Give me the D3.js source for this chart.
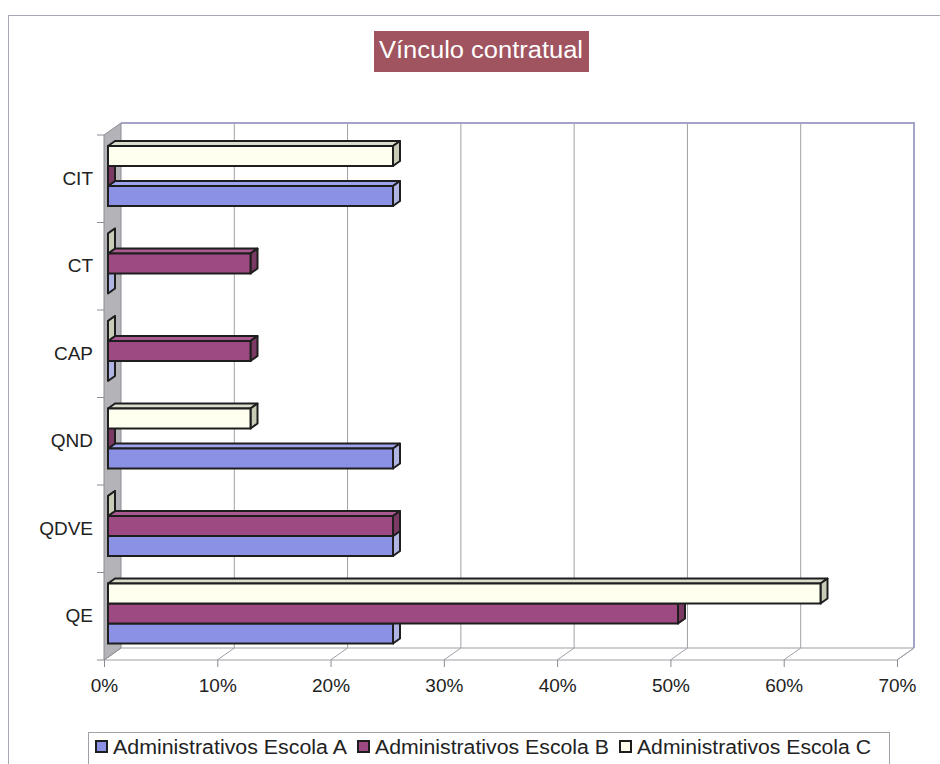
<!DOCTYPE html>
<html>
<head>
<meta charset="utf-8">
<script src="https://cdn.jsdelivr.net/npm/d3@7"></script>
<style>
  body { margin: 0; background: #fff; }
  text { font-family: 'Liberation Sans', Arial, sans-serif; fill: #222; }
</style>
</head>
<body>
<div id="chart"></div>
<script>
// chart data (percent)
const categories = ['CIT', 'CT', 'CAP', 'QND', 'QDVE', 'QE']
const seriesNames = ['Administrativos Escola A', 'Administrativos Escola B', 'Administrativos Escola C']
const escolaA = [25, 0, 0, 25, 25, 25]
const escolaB = [0, 12.5, 12.5, 0, 25, 50]
const escolaC = [25, 0, 0, 12.5, 0, 62.5]
const xTicks = [0, 10, 20, 30, 40, 50, 60, 70]
const titleText = 'Vínculo contratual'

const width = 940,
  height = 764

// colours per series: front, top, side
const palette = [
  { front: '#8b92e6', top: '#9ea4ee', side: '#b0b4e2' },
  { front: '#9d4a82', top: '#aa5a90', side: '#7b3a64' },
  { front: '#fffff0', top: '#d9ddcc', side: '#c8ccb6' },
]

const svg = d3
  .select('#chart')
  .append('svg')
  .attr('width', width)
  .attr('height', height)

// outer frame
svg
  .append('rect')
  .attr('x', 8.5)
  .attr('y', 15.5)
  .attr('width', 960)
  .attr('height', 780)
  .attr('fill', '#fff')
  .attr('stroke', '#a8a8b4')

// scales (front plane of the 3d box)
const x = d3.scaleLinear().domain([0, 70]).range([104, 897])
const xBar = d3.scaleLinear().domain([0, 70]).range([108, 906])
const y = d3.scaleBand().domain(categories).range([135, 660])
const ySeries = d3.scaleBand().domain(['C', 'B', 'A']).range([11, 71])

const depth = { dx: 17, dy: -12 }
const barDepth = { dx: 7, dy: -5 }
const plotTop = 135,
  plotBottom = 660

// back wall
const g = svg.append('g')
g.append('rect')
  .attr('x', x(0) + depth.dx)
  .attr('y', plotTop + depth.dy)
  .attr('width', x(70) - x(0))
  .attr('height', plotBottom - plotTop)
  .attr('fill', '#fff')

// back wall gridlines
g.selectAll('.grid')
  .data(xTicks.slice(1, -1))
  .join('line')
  .attr('class', 'grid')
  .attr('x1', (d) => x(d) + depth.dx)
  .attr('x2', (d) => x(d) + depth.dx)
  .attr('y1', plotTop + depth.dy)
  .attr('y2', plotBottom + depth.dy)
  .attr('stroke', '#a0a0a8')
  .attr('stroke-width', 1)

// wall outline top + right
g.append('path')
  .attr(
    'd',
    `M${x(0) + depth.dx},${plotTop + depth.dy}H${x(70) + depth.dx}V${plotBottom + depth.dy}`
  )
  .attr('fill', 'none')
  .attr('stroke', '#a4a4c8')
  .attr('stroke-width', 2)

// floor
g.append('path')
  .attr(
    'd',
    `M${x(0)},${plotBottom}L${x(70)},${plotBottom}L${x(70) + depth.dx},${plotBottom + depth.dy}L${x(0) + depth.dx},${plotBottom + depth.dy}Z`
  )
  .attr('fill', '#fff')
  .attr('stroke', '#a0a0a8')

g.selectAll('.floorgrid')
  .data(xTicks)
  .join('line')
  .attr('class', 'floorgrid')
  .attr('x1', (d) => x(d))
  .attr('x2', (d) => x(d) + depth.dx)
  .attr('y1', plotBottom)
  .attr('y2', plotBottom + depth.dy)
  .attr('stroke', '#a0a0a8')

// left side wall
g.append('path')
  .attr(
    'd',
    `M${x(0)},${plotTop}L${x(0) + depth.dx},${plotTop + depth.dy}L${x(0) + depth.dx},${plotBottom + depth.dy}L${x(0)},${plotBottom}Z`
  )
  .attr('fill', '#b4b4b8')
  .attr('stroke', '#8c8c94')

// category boundary ticks
g.selectAll('.ctick')
  .data(d3.range(categories.length + 1))
  .join('line')
  .attr('class', 'ctick')
  .attr('x1', x(0) - 7)
  .attr('x2', x(0))
  .attr('y1', (i) => plotTop + i * y.step())
  .attr('y2', (i) => plotTop + i * y.step())
  .attr('stroke', '#8c8c94')

// bars
const rows = []
categories.forEach((c, i) => {
  rows.push({ cat: c, key: 'A', s: 0, v: escolaA[i] })
  rows.push({ cat: c, key: 'B', s: 1, v: escolaB[i] })
  rows.push({ cat: c, key: 'C', s: 2, v: escolaC[i] })
})

const bars = g
  .append('g')
  .selectAll('.bar')
  .data(rows)
  .join('g')
  .attr('class', 'bar')

const barH = ySeries.bandwidth()
const x0 = xBar(0)
const edge = '#1e1e1e'

// top face
bars
  .append('path')
  .attr('d', (d) => {
    const y0 = y(d.cat) + ySeries(d.key)
    const x1 = xBar(d.v)
    return `M${x0},${y0}L${x1},${y0}L${x1 + barDepth.dx},${y0 + barDepth.dy}L${x0 + barDepth.dx},${y0 + barDepth.dy}Z`
  })
  .attr('fill', (d) => palette[d.s].top)
  .attr('stroke', edge)
  .attr('stroke-width', 2)
  .attr('stroke-linejoin', 'round')

// side face
bars
  .append('path')
  .attr('d', (d) => {
    const y0 = y(d.cat) + ySeries(d.key)
    const x1 = xBar(d.v)
    return `M${x1},${y0}L${x1 + barDepth.dx},${y0 + barDepth.dy}L${x1 + barDepth.dx},${y0 + barH + barDepth.dy}L${x1},${y0 + barH}Z`
  })
  .attr('fill', (d) => palette[d.s].side)
  .attr('stroke', edge)
  .attr('stroke-width', 2)
  .attr('stroke-linejoin', 'round')

// front face
bars
  .append('rect')
  .attr('x', x0)
  .attr('y', (d) => y(d.cat) + ySeries(d.key))
  .attr('width', (d) => xBar(d.v) - x0)
  .attr('height', barH)
  .attr('fill', (d) => palette[d.s].front)
  .attr('stroke', edge)
  .attr('stroke-width', 2)

// x axis
const xAxis = svg
  .append('g')
  .attr('transform', `translate(0, ${plotBottom})`)
  .call(
    d3
      .axisBottom(x)
      .tickValues(xTicks)
      .tickFormat((d) => d + '%')
      .tickSize(7)
      .tickPadding(12)
  )
xAxis.select('.domain').remove()
xAxis.selectAll('line').attr('stroke', '#8c8c94')
xAxis.selectAll('text').attr('font-size', '19px').attr('fill', '#222')

// y axis (category labels)
const yAxis = svg
  .append('g')
  .attr('transform', `translate(${x(0)}, 0)`)
  .call(d3.axisLeft(y).tickSize(0).tickPadding(11))
yAxis.select('.domain').remove()
yAxis.selectAll('text').attr('font-size', '19px').attr('fill', '#222')

// title
const title = svg.append('g')
title
  .append('rect')
  .attr('x', 374)
  .attr('y', 31)
  .attr('width', 215)
  .attr('height', 41)
  .attr('fill', '#a0545f')
title
  .append('text')
  .attr('x', 379)
  .attr('y', 58)
  .attr('font-size', '23px')
  .attr('textLength', 204)
  .attr('lengthAdjust', 'spacingAndGlyphs')
  .style('fill', '#fff')
  .text(titleText)

// legend
const legend = svg.append('g')
legend
  .append('rect')
  .attr('x', 88.5)
  .attr('y', 732.5)
  .attr('width', 801)
  .attr('height', 60)
  .attr('fill', '#fff')
  .attr('stroke', '#a0a0a8')

const items = legend
  .selectAll('.item')
  .data(seriesNames)
  .join('g')
  .attr('class', 'item')
  .attr('transform', (d, i) => `translate(${96 + i * 262}, 741)`)

items
  .append('rect')
  .attr('width', 11)
  .attr('height', 11)
  .attr('fill', (d, i) => palette[i].front)
  .attr('stroke', edge)
  .attr('stroke-width', 2)

items
  .append('text')
  .attr('x', 17)
  .attr('y', 13)
  .attr('font-size', '20px')
  .attr('textLength', 234)
  .attr('lengthAdjust', 'spacingAndGlyphs')
  .text((d) => d)
</script>
</body>
</html>
